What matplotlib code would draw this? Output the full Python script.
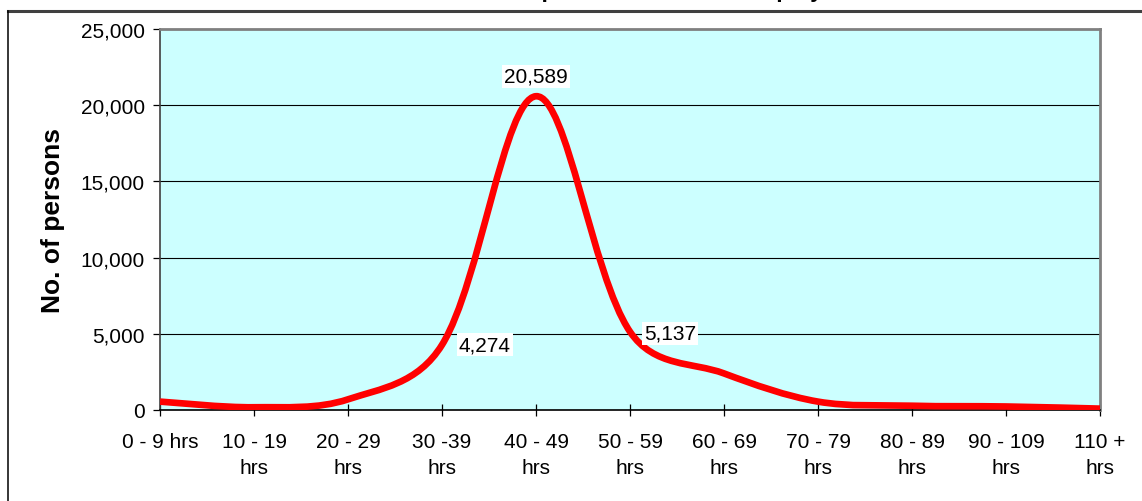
import matplotlib
matplotlib.use("Agg")
import matplotlib.pyplot as plt
import numpy as np
from matplotlib.path import Path
from matplotlib.patches import PathPatch
from matplotlib.lines import Line2D

plt.rcParams["font.family"] = ["Liberation Sans", "DejaVu Sans"]

categories = ["0 - 9 hrs", "10 - 19\nhrs", "20 - 29\nhrs", "30 -39\nhrs", "40 - 49\nhrs",
              "50 - 59\nhrs", "60 - 69\nhrs", "70 - 79\nhrs", "80 - 89\nhrs",
              "90 - 109\nhrs", "110 +\nhrs"]
persons = [550, 180, 700, 4274, 20589, 5137, 2400, 550, 280, 230, 90]
labelled = {3: "4,274", 4: "20,589", 5: "5,137"}
title = "Number of hours worked per week of all the employed"


def smooth_path(ax, xs, ys, t=1 / 3, k=0.5):
    # bezier segments like the Excel "smoothed line", weighted by on-screen segment length
    pts = ax.transData.transform(np.column_stack([xs, ys]))
    inv = ax.transData.inverted()
    n = len(pts)
    verts = [pts[0]]
    for i in range(n - 1):
        a, b = max(i - 1, 0), min(i + 2, n - 1)
        p0, p1 = pts[i], pts[i + 1]
        l_prev = np.hypot(*(p0 - pts[a])) ** k
        l_cur = np.hypot(*(p1 - p0)) ** k
        l_next = np.hypot(*(pts[b] - p1)) ** k
        w1 = l_cur / (l_prev + l_cur) if i > 0 else 0.5
        w2 = l_cur / (l_cur + l_next) if i + 1 < n - 1 else 0.5
        c1 = p0 + t * w1 * (p1 - pts[a])
        c2 = p1 - t * w2 * (pts[b] - p0)
        verts += [c1, c2, p1]
    codes = [Path.MOVETO] + [Path.CURVE4] * (3 * (n - 1))
    return Path(inv.transform(np.array(verts)), codes)


fig = plt.figure(figsize=(11.42, 5.02), dpi=100)
ax = fig.add_axes([160 / 1142, 91 / 502, 940 / 1142, 381 / 502])
ax.set_facecolor("#CCFFFF")

x = list(range(len(categories)))
ax.set_xlim(0, len(categories) - 1)
ax.set_ylim(0, 25000)

patch = PathPatch(smooth_path(ax, x, persons), fc="none", ec="#FF0000", lw=4.8,
                  capstyle="butt", joinstyle="round", zorder=3)
ax.add_patch(patch)

ax.set_yticks(range(0, 25001, 5000))
ax.set_yticklabels([f"{v:,}" for v in range(0, 25001, 5000)])
ax.set_xticks(x)
ax.set_xticklabels(categories, linespacing=1.47)
ax.grid(axis="y", color="black", lw=0.8, zorder=1)
ax.set_axisbelow(True)

ax.tick_params(axis="x", direction="inout", length=9, width=0.9, pad=11, labelsize=15)
ax.tick_params(axis="y", direction="out", length=5, width=0.9, pad=6, labelsize=15)

ax.spines["top"].set_color("#808080")
ax.spines["top"].set_linewidth(2)
ax.spines["right"].set_color("#808080")
ax.spines["right"].set_linewidth(2)
ax.spines["left"].set_color("#404040")
ax.spines["left"].set_linewidth(1.2)
ax.spines["bottom"].set_color("black")
ax.spines["bottom"].set_linewidth(1.2)

ax.set_ylabel("No. of persons", fontsize=19, fontweight="bold")
ax.yaxis.set_label_coords(-0.101, 0.5)

box = dict(boxstyle="square,pad=0.1", fc="white", ec="none")
offsets = {3: (12, 0, "left", "center"), 4: (0, 14.5, "center", "center"),
           5: (10, -1, "left", "center")}
for i, txt in labelled.items():
    dx, dy, ha, va = offsets[i]
    ax.annotate(txt, (x[i], persons[i]), xytext=(dx, dy), textcoords="offset points",
                ha=ha, va=va, fontsize=15, bbox=box, zorder=5)

# outer chart frame (cut off at the top)
fig.add_artist(Line2D([8 / 1142, 1], [1 - 12 / 502] * 2, transform=fig.transFigure,
                      color="#404040", lw=2.2))
fig.add_artist(Line2D([8 / 1142] * 2, [0, 1 - 12 / 502], transform=fig.transFigure,
                      color="black", lw=1.1))
fig.text(268 / 1142, 1 + 3.5 / 502, title, fontsize=16.3, fontweight="bold",
         ha="left", va="baseline")

fig.savefig("out.png", dpi=100)
